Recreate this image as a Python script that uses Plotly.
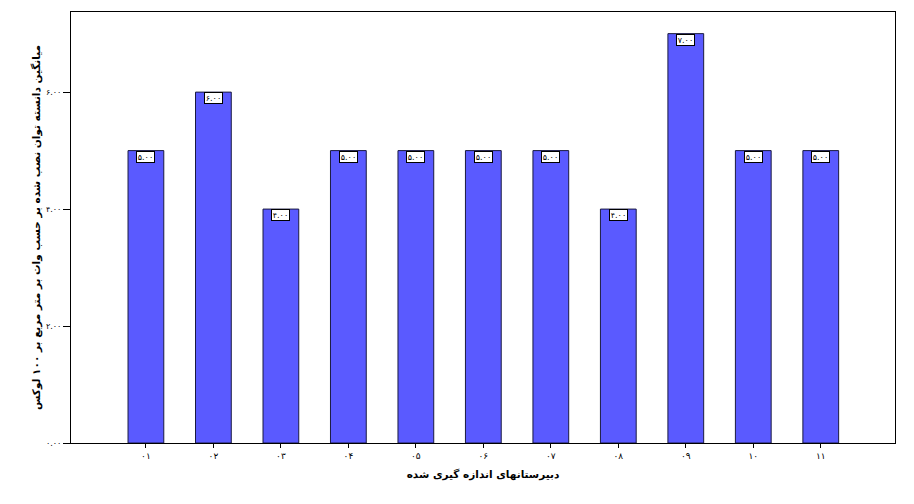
import plotly.graph_objects as go

categories = ["۰۱", "۰۲", "۰۳", "۰۴", "۰۵", "۰۶", "۰۷", "۰۸", "۰۹", "۱۰", "۱۱"]
values = [5, 6, 4, 5, 5, 5, 5, 4, 7, 5, 5]
value_labels = ["۵.۰۰", "۶.۰۰", "۴.۰۰", "۵.۰۰", "۵.۰۰", "۵.۰۰", "۵.۰۰", "۴.۰۰", "۷.۰۰", "۵.۰۰", "۵.۰۰"]
y_tick_vals = [0, 2, 4, 6]
y_tick_text = ["۰.۰۰", "۲.۰۰", "۴.۰۰", "۶.۰۰"]
x_title = "دبیرستانهای اندازه گیری شده"
y_title = "میانگین دانسته توان نصب شده بر حسب وات بر متر مربع بر ۱۰۰ لوکس"

fig = go.Figure()
fig.add_trace(go.Bar(
    x=categories, y=values, width=0.53,
    marker=dict(color="#5a5aff", line=dict(color="#1a1a40", width=1)),
    hoverinfo="skip",
))

for c, v, t in zip(categories, values, value_labels):
    fig.add_annotation(
        x=c, y=v, text=t, showarrow=False, yanchor="top", xanchor="center",
        font=dict(family="DejaVu Sans", size=8, color="black"),
        bgcolor="white", bordercolor="black", borderwidth=1, borderpad=0,
        width=17, height=10,
    )

fig.update_layout(
    width=906, height=496,
    margin=dict(l=63, r=19, t=4, b=61),
    paper_bgcolor="white", plot_bgcolor="white",
    showlegend=False,
    font=dict(family="DejaVu Sans", color="black"),
    xaxis=dict(
        type="category", range=[-1.11, 11.1], automargin=False,
        showline=True, linecolor="black", linewidth=1, mirror=True,
        ticks="outside", ticklen=4, tickcolor="black",
        tickfont=dict(size=9),
        title=dict(text="<b>" + x_title + "</b>", font=dict(size=10.5), standoff=10),
        showgrid=False,
    ),
    yaxis=dict(
        range=[0, 7.37], automargin=False,
        tickvals=y_tick_vals, ticktext=y_tick_text,
        showline=True, linecolor="black", linewidth=1, mirror=True,
        ticks="outside", ticklen=7, tickcolor="black",
        tickfont=dict(size=8),
        title=dict(text="<b>" + y_title + "</b>", font=dict(size=10.5), standoff=3),
        showgrid=False, zeroline=False,
    ),
)

fig.write_html("out.html")
